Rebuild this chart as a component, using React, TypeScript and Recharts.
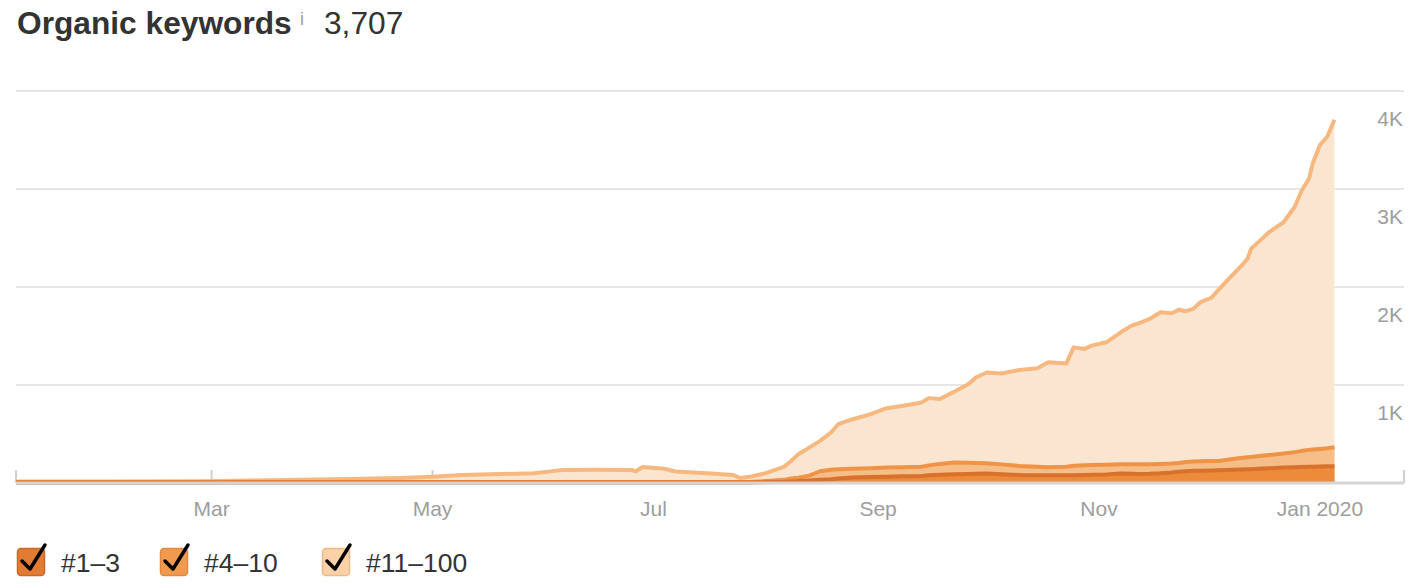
import React from "react";
import { AreaChart, Area, XAxis, YAxis, CartesianGrid } from "recharts";

// Day offsets from 2019-01-06
const days = [
  0, 23, 51, 65, 78, 92, 106, 115, 123, 131, 143, 147, 151, 161, 170, 171, 173, 179, 182, 192,
  198, 200, 203, 207, 212, 214, 216, 219, 222, 225, 227, 231, 236, 240, 245, 250, 252, 255, 259, 263,
  265, 268, 272, 277, 282, 285, 290, 292, 295, 297, 301, 305, 308, 310, 313, 316, 319, 321, 323, 325,
  327, 330, 332, 334, 336, 338, 340, 341, 343, 346, 350, 353, 355, 357, 358, 360, 362, 364,
];

// Keywords ranking #1–3
const pos1to3 = [
  5, 5, 5, 5, 5, 5, 5, 5, 6, 6, 6, 6, 6, 6, 6, 6, 6, 6, 6, 6,
  6, 6, 6, 8, 12, 16, 20, 25, 32, 38, 45, 55, 60, 65, 68, 72, 78, 85, 89, 92,
  95, 96, 90, 82, 79, 79, 80, 80, 82, 84, 88, 96, 94, 93, 95, 100, 108, 115, 120, 125,
  126, 128, 130, 133, 136, 138, 140, 140, 145, 150, 157, 160, 163, 165, 166, 168, 170, 172,
];

// Keywords ranking #4–10
const pos4to10 = [
  3, 3, 3, 4, 4, 4, 5, 5, 4, 4, 4, 4, 4, 4, 4, 4, 4, 4, 4, 4,
  4, 4, 6, 12, 20, 29, 35, 50, 88, 97, 95, 90, 90, 92, 92, 95, 102, 110, 119, 114,
  109, 105, 100, 92, 86, 81, 85, 95, 100, 100, 98, 95, 97, 98, 96, 95, 92, 90, 95, 95,
  96, 96, 95, 102, 109, 117, 122, 126, 130, 135, 143, 155, 165, 173, 176, 180, 185, 193,
];

// Keywords ranking #11–100
const pos11to100 = [
  7, 8, 10, 17, 24, 31, 42, 55, 72, 79, 89, 106, 123, 126, 123, 108, 154, 135, 108, 86,
  72, 40, 54, 80, 133, 180, 238, 286, 310, 380, 460, 506, 553, 603, 628, 655, 686, 661, 723, 804,
  873, 927, 928, 979, 1005, 1071, 1055, 1209, 1186, 1218, 1250, 1347, 1415, 1439, 1484, 1547, 1532, 1562, 1538, 1557,
  1623, 1665, 1746, 1814, 1883, 1948, 2026, 2125, 2183, 2276, 2363, 2501, 2659, 2769, 2918, 3100, 3178, 3342,
];

const monthTicks = [54, 115, 176, 238, 299, 360];
const monthLabels = ["Mar", "May", "Jul", "Sep", "Nov", "Jan 2020"];
const yTicks = [0, 1000, 2000, 3000, 4000];
const yLabels = ["", "1K", "2K", "3K", "4K"];

const legendItems = [
  { label: "#1–3", fill: "#e27c33", border: "#c9682a" },
  { label: "#4–10", fill: "#f19a4d", border: "#e3893f" },
  { label: "#11–100", fill: "#fbd2a8", border: "#efb987" },
];

const rows = days.map((d, i) => {
  const b = pos1to3[i];
  const m = b + pos4to10[i];
  const t = m + pos11to100[i];
  return { day: d, b, m, t };
});

const FONT = "'Liberation Sans', Arial, Helvetica, sans-serif";

const XTick = (props: any) => {
  const { x, y, payload } = props;
  const idx = monthTicks.indexOf(payload.value);
  return (
    <text x={x} y={y + 33} textAnchor="middle" fill="#9d9d9d" fontSize={21} fontFamily={FONT}>
      {monthLabels[idx]}
    </text>
  );
};

const YTick = (props: any) => {
  const { x, y, payload } = props;
  const idx = yTicks.indexOf(Number(payload.value));
  const label = yLabels[idx];
  if (!label) return <g />;
  return (
    <text x={x - 1} y={y + 35} textAnchor="end" fill="#9d9d9d" fontSize={21} fontFamily={FONT}>
      {label}
    </text>
  );
};

const PLOT_TOP = 91;
const CHART_H = 530;
const X_AXIS_H = 40;
const BOTTOM_MARGIN = 7;
const PLOT_BOTTOM = CHART_H - BOTTOM_MARGIN - X_AXIS_H;

export default function App() {
  const legendX = [17, 160, 322];
  return (
    <div style={{ position: "absolute", left: 0, top: 0, width: 1426, height: 586, background: "#fff", fontFamily: FONT }}>
      <div style={{ position: "absolute", left: 0, top: 0 }}>
        <AreaChart width={1426} height={CHART_H} data={rows} margin={{ top: PLOT_TOP, right: 21, left: 16, bottom: BOTTOM_MARGIN }}>
          <CartesianGrid vertical={false} stroke="#e6e6e6" strokeWidth={2} />
          <CartesianGrid
            horizontal={false}
            y={PLOT_BOTTOM - 13}
            height={13}
            stroke="#d0d0d0"
            strokeWidth={2}
          />
          <XAxis
            dataKey="day"
            type="number"
            domain={[0, 383.2]}
            ticks={monthTicks}
            interval={0}
            height={X_AXIS_H}
            axisLine={{ stroke: "#d4d4d4", strokeWidth: 3 }}
            tickLine={false}
            tickSize={0}
            tickMargin={0}
            tick={<XTick />}
            allowDataOverflow
          />
          <YAxis
            orientation="right"
            width={1}
            domain={[0, 4000]}
            ticks={yTicks}
            interval={0}
            axisLine={false}
            tickLine={false}
            tickSize={0}
            tickMargin={0}
            tick={<YTick />}
          />
          <Area type="linear" dataKey="t" stroke="#f6b87f" strokeWidth={4} fill="#fae6d0" fillOpacity={1} isAnimationActive={false} dot={false} activeDot={false} strokeLinejoin="round" />
          <Area type="linear" dataKey="m" stroke="#ef9446" strokeWidth={4} fill="#f5bd88" fillOpacity={1} isAnimationActive={false} dot={false} activeDot={false} strokeLinejoin="round" />
          <Area type="linear" dataKey="b" stroke="#d8712b" strokeWidth={4} fill="#ee8b3a" fillOpacity={1} isAnimationActive={false} dot={false} activeDot={false} strokeLinejoin="round" />
        </AreaChart>
      </div>
      <svg width={1426} height={586} style={{ position: "absolute", left: 0, top: 0, pointerEvents: "none" }}>
        <text x={17} y={34} fontSize={31.7} fontWeight="bold" fill="#333" fontFamily={FONT}>
          Organic keywords
        </text>
        <text x={300} y={25} fontSize={18} fill="#9c9c9c" fontFamily={FONT}>
          i
        </text>
        <text x={324} y={34} fontSize={31.7} fill="#333" fontFamily={FONT}>
          3,707
        </text>
        {legendItems.map((it, i) => {
          const lx = legendX[i];
          return (
            <g key={it.label}>
              <rect x={lx + 0.5} y={548.5} width={27} height={27} rx={3.5} fill={it.fill} stroke={it.border} strokeWidth={1.5} />
              <polyline
                points={`${lx + 5},${561} ${lx + 13},${569} ${lx + 28},${545}`}
                fill="none"
                stroke="#000"
                strokeWidth={3.5}
                strokeLinecap="round"
                strokeLinejoin="round"
              />
              <text x={lx + 44} y={572} fontSize={26.5} fill="#333" fontFamily={FONT}>
                {it.label}
              </text>
            </g>
          );
        })}
      </svg>
    </div>
  );
}
